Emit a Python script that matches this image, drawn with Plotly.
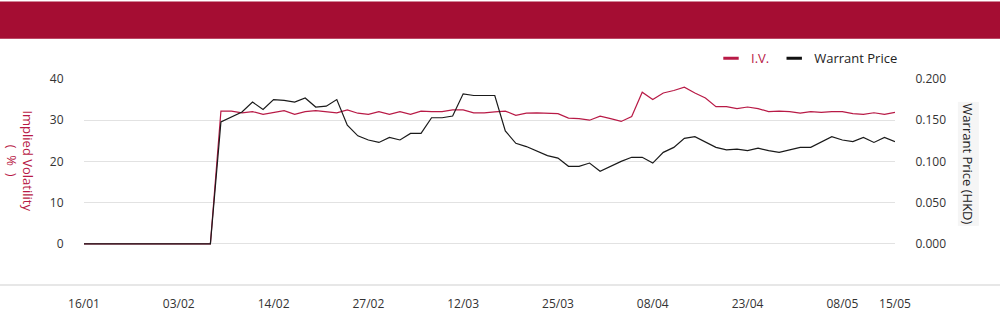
import plotly.graph_objects as go

dates = ["16/01", "17/01", "20/01", "21/01", "22/01", "23/01", "24/01", "27/01", "28/01",
         "03/02", "04/02", "05/02", "06/02", "07/02", "10/02", "11/02", "12/02", "13/02",
         "14/02", "17/02", "18/02", "19/02", "20/02", "21/02", "24/02", "25/02", "26/02",
         "27/02", "28/02", "03/03", "04/03", "05/03", "06/03", "07/03", "10/03", "11/03",
         "12/03", "13/03", "14/03", "17/03", "18/03", "19/03", "20/03", "21/03", "24/03",
         "25/03", "26/03", "27/03", "28/03", "31/03", "01/04", "02/04", "03/04", "07/04",
         "08/04", "09/04", "10/04", "11/04", "14/04", "15/04", "16/04", "17/04", "22/04",
         "23/04", "24/04", "25/04", "28/04", "29/04", "30/04", "02/05", "06/05", "07/05",
         "08/05", "09/05", "12/05", "13/05", "14/05", "15/05"]

iv = [0, 0, 0, 0, 0, 0, 0, 0, 0, 0, 0, 0, 0,
      32.2, 32.2, 31.8, 32.1, 31.4, 31.9, 32.3, 31.4, 32.1, 32.3, 32.1, 31.8, 32.5,
      31.7, 31.4, 32.1, 31.4, 32.1, 31.4, 32.2, 32.1, 32.1, 32.5, 32.5, 31.8, 31.8,
      32.0, 32.2, 31.2, 31.7, 31.8, 31.7, 31.6, 30.5, 30.4, 30.0, 31.0, 30.4, 29.7,
      30.9, 36.8, 35.0, 36.6, 37.2, 38.0, 36.6, 35.4, 33.3, 33.3, 32.8, 33.2, 32.8,
      32.1, 32.2, 32.1, 31.7, 32.1, 31.9, 32.1, 32.1, 31.6, 31.4, 31.8, 31.4, 31.9]

price = [0, 0, 0, 0, 0, 0, 0, 0, 0, 0, 0, 0, 0,
         0.148, 0.154, 0.160, 0.172, 0.163, 0.175, 0.174, 0.172, 0.177, 0.166, 0.167,
         0.175, 0.144, 0.131, 0.126, 0.123, 0.129, 0.126, 0.134, 0.134, 0.153, 0.153,
         0.155, 0.182, 0.180, 0.180, 0.180, 0.137, 0.122, 0.118, 0.112, 0.107, 0.104,
         0.094, 0.094, 0.098, 0.088, 0.094, 0.100, 0.105, 0.105, 0.098, 0.111, 0.117,
         0.128, 0.130, 0.123, 0.117, 0.114, 0.115, 0.113, 0.116, 0.113, 0.111, 0.114,
         0.117, 0.117, 0.123, 0.130, 0.126, 0.124, 0.129, 0.123, 0.129, 0.124]

tick_dates = ["16/01", "03/02", "14/02", "27/02", "12/03", "25/03", "08/04", "23/04", "08/05", "15/05"]
iv_ticks = [0, 10, 20, 30, 40]
price_ticks = [0.0, 0.05, 0.10, 0.15, 0.20]

RED = "#B81A46"
HEADER = "#A50D33"
FONT = "Open Sans"

L, R, T, B = 84, 105, 79, 35
W, H = 1000, 324
PW = W - L - R
PH = H - T - B

fig = go.Figure()

fig.add_trace(go.Scatter(x=dates, y=price, mode="lines", name="Warrant Price",
                         line=dict(color="#1a1a1a", width=1.2), yaxis="y2",
                         showlegend=False, legendgroup="wp"))
fig.add_trace(go.Scatter(x=dates, y=iv, mode="lines", name="I.V.",
                         line=dict(color=RED, width=1.2), yaxis="y",
                         showlegend=False, legendgroup="iv"))

# legend entries
fig.add_trace(go.Scatter(x=[None], y=[None], mode="markers",
                         name="<span style='color:%s'>I.V.</span>" % RED,
                         marker=dict(symbol="line-ew", size=11, line=dict(color=RED, width=3)),
                         legendgroup="iv"))
fig.add_trace(go.Scatter(x=[None], y=[None], mode="markers", name="Warrant Price",
                         marker=dict(symbol="line-ew", size=11, line=dict(color="#111", width=3)),
                         legendgroup="wp"))

fig.update_layout(
    width=W, height=H,
    margin=dict(l=L, r=R, t=T, b=B),
    paper_bgcolor="white", plot_bgcolor="white",
    font=dict(family=FONT, size=12, color="#333"),
    showlegend=True,
    legend=dict(orientation="h", x=1.0 + 8 / PW, xanchor="right", y=1 + (T - 58) / PH,
                yanchor="middle", font=dict(size=13, color="#222", family=FONT),
                bgcolor="rgba(0,0,0,0)", itemwidth=30, traceorder="normal"),
    xaxis=dict(type="category", categoryorder="array", categoryarray=dates,
               range=[0, len(dates) - 1], tickmode="array", tickvals=tick_dates,
               ticktext=tick_dates, showgrid=False, zeroline=False, showline=False,
               ticks="outside", ticklen=8, tickcolor="rgba(0,0,0,0)",
               tickfont=dict(size=12, color="#333")),
    yaxis=dict(range=[-10, 40], tickmode="array", tickvals=iv_ticks,
               showgrid=True, gridcolor="#e2e2e2", gridwidth=1, zeroline=False,
               ticks="outside", ticklen=17, tickcolor="rgba(0,0,0,0)",
               tickfont=dict(size=12, color="#333")),
    yaxis2=dict(range=[-0.05, 0.20], tickmode="array", tickvals=price_ticks,
                tickformat=".3f", overlaying="y", side="right", showgrid=False,
                zeroline=False, ticks="outside", ticklen=17, tickcolor="rgba(0,0,0,0)",
                tickfont=dict(size=12, color="#333")),
    hovermode="x unified",
)

# header band
fig.add_shape(type="rect", xref="paper", yref="paper",
              x0=-L / PW, x1=(W - L) / PW, y0=1 + (T - 38) / PH, y1=1 + T / PH,
              fillcolor=HEADER, line_width=0, layer="below")
# bottom separator line
fig.add_shape(type="line", xref="paper", yref="paper",
              x0=-L / PW, x1=(W - L) / PW, y0=0, y1=0,
              line=dict(color="#cfcfcf", width=1))

fig.add_annotation(text="Implied Volatility<br>(  %  )", xref="paper", yref="paper",
                   x=(20 - L) / PW, y=1 - (162 - T) / PH, xanchor="center", yanchor="middle",
                   textangle=90, showarrow=False,
                   font=dict(size=13, color=RED, family=FONT))
fig.add_annotation(text="Warrant Price (HKD)", xref="paper", yref="paper",
                   x=(968 - L) / PW, y=1 - (166 - T) / PH, xanchor="center", yanchor="middle",
                   textangle=90, showarrow=False, bgcolor="#f5f5f5",
                   font=dict(size=13, color="#222", family=FONT))

fig.write_html("out.html")
